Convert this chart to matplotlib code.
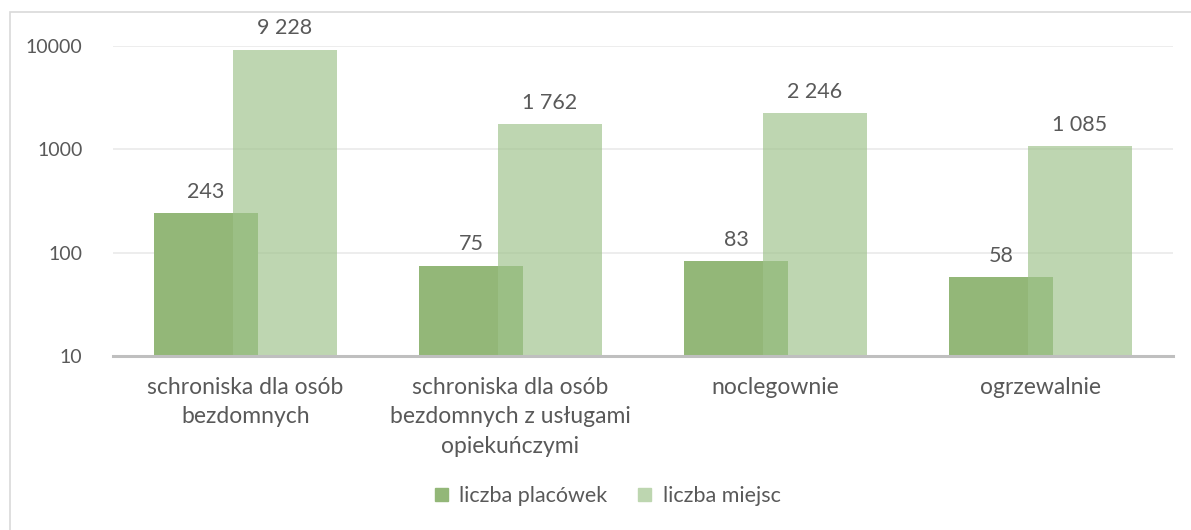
import numpy as np
import matplotlib.pyplot as plt
from matplotlib.patches import Rectangle

categories = ["schroniska dla osób\nbezdomnych",
              "schroniska dla osób\nbezdomnych z usługami\nopiekuńczymi",
              "noclegownie",
              "ogrzewalnie"]
placowki = [243, 75, 83, 58]
miejsca = [9228, 1762, 2246, 1085]
labels_placowki = ["243", "75", "83", "58"]
labels_miejsca = ["9 228", "1 762", "2 246", "1 085"]

plt.rcParams['font.family'] = ['Lato', 'DejaVu Sans']
txt = '#595959'

fig = plt.figure(figsize=(11.91, 5.30), dpi=100)
ax = fig.add_axes([113/1191, 1-356/530, 1060/1191, 310/530])

# chart frame (extends past the image at right/bottom)
fig.patches.append(Rectangle((10/1191, -0.1), 1.2, 1-12/530+0.1, transform=fig.transFigure,
                             fill=False, edgecolor='#d9d9d9', lw=1.2))

x = np.arange(len(categories))
w = 0.39
off = 0.149
ax.bar(x - off, placowki, w, color='#93b778', bottom=0.001, zorder=2)
ax.bar(x + off, miejsca, w, color='#9fc38c', alpha=0.68, bottom=0.001, zorder=3)

ax.set_yscale('log')
ax.set_ylim(10, 10000)
ax.set_xlim(-0.5, len(categories) - 0.5)
ax.set_yticks([10, 100, 1000, 10000])
ax.set_yticklabels(['10', '100', '1000', '10000'])
ax.minorticks_off()
ax.yaxis.grid(True, color='#ececec', lw=1.3, zorder=0)
ax.set_axisbelow(True)
for s in ['top', 'right', 'left']:
    ax.spines[s].set_visible(False)
ax.spines['bottom'].set_color('#bfbfbf')
ax.spines['bottom'].set_linewidth(2.2)
ax.spines['bottom'].set_zorder(5)
ax.tick_params(axis='y', length=0, pad=22, labelsize=14, labelcolor=txt)
ax.tick_params(axis='x', length=0, pad=15, labelsize=16.5, labelcolor=txt)
ax.set_xticks(x)
ax.set_xticklabels(categories, linespacing=1.5, va='top')

for i in range(len(categories)):
    ax.annotate(labels_placowki[i], (x[i] - off, placowki[i]), xytext=(0, 8),
                textcoords='offset points', ha='center', va='bottom',
                fontsize=15.5, color=txt, annotation_clip=False)
    ax.annotate(labels_miejsca[i], (x[i] + off, miejsca[i]), xytext=(0, 8),
                textcoords='offset points', ha='center', va='bottom',
                fontsize=15.5, color=txt, annotation_clip=False)

h1 = Rectangle((0, 0), 1, 1, color='#93b778')
h2 = Rectangle((0, 0), 1, 1, color='#bdd6b0')
fig.legend([h1, h2], ['liczba placówek', 'liczba miejsc'], loc='center',
           bbox_to_anchor=(0.5 + 12/1191, 1-496/530), ncol=2, frameon=False,
           fontsize=15.5, labelcolor=txt, handlelength=0.6, handleheight=0.6,
           handletextpad=0.55, columnspacing=1.4)

fig.savefig('out.png', dpi=100)
